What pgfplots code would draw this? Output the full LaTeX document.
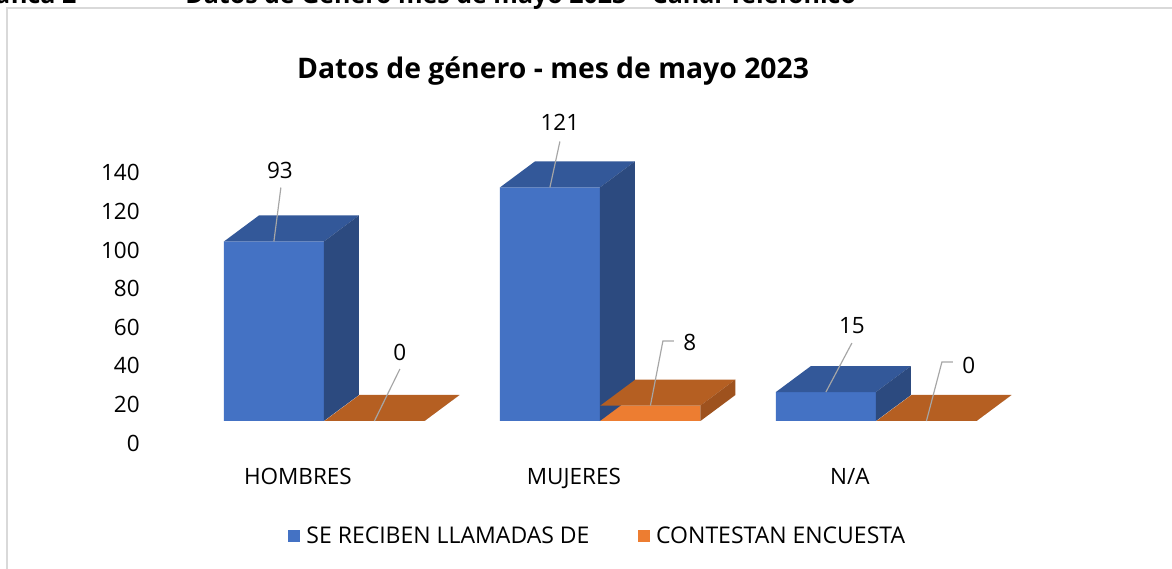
\documentclass[border=0pt]{standalone}
\usepackage{pgfplots}
\pgfplotsset{compat=1.18}
\usepackage{pgfplotstable}
\usepackage{fontspec}
\setmainfont{Open Sans}
\definecolor{bfront}{HTML}{4472C4}
\definecolor{btop}{HTML}{335899}
\definecolor{bside}{HTML}{2C4A7F}
\definecolor{ofront}{HTML}{ED7D31}
\definecolor{otop}{HTML}{B55F22}
\definecolor{oside}{HTML}{9E521E}
\definecolor{leader}{HTML}{A6A6A6}
\definecolor{framec}{HTML}{D9D9D9}

% x = category index, v = value, lx/ly = leader end (px), el = elbow (px), nx/ny = label offset (px)
\pgfplotstableread{
x v   lx   ly   el nx   ny
0 93  7    54   0  6    71
1 121 10   46   0  10   65
2 15  26   49   0  26   66
}\bluedata
\pgfplotstableread{
x v   lx   ly   el nx   ny
0 0   25.5 52   0  25.5 69
1 8   12.5 64.6 11 39.5 62.6
2 0   15.5 59   11 42.5 56
}\orangedata

\newcommand{\declarebox}[3]{%
\pgfdeclareplotmark{#1}{%
  \pgfmathsetmacro{\hh}{\val*1.158}%
  \pgfmathsetmacro{\ax}{\vlx*0.6}%
  \pgfmathsetmacro{\ay}{\vly*0.6}%
  \pgfmathsetmacro{\bx}{(\vlx+\vel)*0.6}%
  \pgfsetfillcolor{#2}%
  \pgfpathmoveto{\pgfqpoint{-30pt}{0pt}}%
  \pgfpathlineto{\pgfqpoint{30pt}{0pt}}%
  \pgfpathlineto{\pgfqpoint{51pt}{15.6pt}}%
  \pgfpathlineto{\pgfqpoint{-9pt}{15.6pt}}%
  \pgfpathclose
  \pgfusepath{fill}%
  \pgfsetfillcolor{#3}%
  \pgfpathmoveto{\pgfqpoint{30pt}{0pt}}%
  \pgfpathlineto{\pgfqpoint{51pt}{15.6pt}}%
  \pgfpathlineto{\pgfpoint{51pt}{15.6pt-\hh pt}}%
  \pgfpathlineto{\pgfpoint{30pt}{-\hh pt}}%
  \pgfpathclose
  \pgfusepath{fill}%
  \pgfsetstrokecolor{leader}%
  \pgfsetlinewidth{0.7pt}%
  \pgfpathmoveto{\pgfqpoint{0pt}{0pt}}%
  \pgfpathlineto{\pgfpoint{\ax pt}{\ay pt}}%
  \pgfpathlineto{\pgfpoint{\bx pt}{\ay pt}}%
  \pgfusepath{stroke}%
}}
\declarebox{boxblue}{btop}{bside}
\declarebox{boxorange}{otop}{oside}

\begin{document}
\begin{tikzpicture}
\useasboundingbox (0,0) rectangle (703.2pt,341.4pt);
\fill[white] (0,0) rectangle (703.2pt,341.4pt);
% frame
\draw[framec, line width=0.9pt] (4.2pt,0) -- (4.2pt,336.6pt) -- (703.2pt,336.6pt);
% cut-off header
\node[anchor=base east, inner sep=0pt, font=\bfseries\fontsize{15}{18}\selectfont] at (46pt,339.4pt) {Gráfica 2};
\node[anchor=base west, inner sep=0pt, font=\bfseries\fontsize{15}{18}\selectfont] at (111pt,339.4pt) {Datos de Género mes de mayo 2023 – Canal Telefónico};
% title
\node[font=\bfseries\fontsize{17}{20}\selectfont] at (331.8pt,298.8pt) {Datos de género - mes de mayo 2023};
\begin{axis}[
  at={(87pt,88.8pt)}, anchor=south west,
  x=165.6pt, y=1.158pt,
  xmin=-0.554, xmax=2.58, ymin=0, ymax=150,
  enlargelimits=false, clip=false,
  axis line style={draw=none},
  major tick length=0pt,
  xtick={0,1,2}, xticklabels={HOMBRES,MUJERES,N/A},
  ytick={0,20,...,140},
  /pgf/number format/assume math mode=true,
  ticklabel style={font=\fontsize{13.5}{16}\selectfont, text=black},
  yticklabel style={anchor=east, inner sep=0pt, xshift=-3pt, yshift=-13.2pt},
  xticklabel style={anchor=base, inner sep=0pt, yshift=-38pt},
  legend style={at={(0.524,-0.397)}, anchor=center, draw=none, fill=none,
    legend columns=2, font=\fontsize{13.8}{16}\selectfont,
    /tikz/every even column/.append style={column sep=27pt}},
  legend cell align=left,
  legend image code/.code={\fill[#1,draw=none] (0pt,-3.6pt) rectangle (7.2pt,3.6pt);\path (9pt,0pt);},
]
\addplot[ybar, bar shift=0pt, bar width=60pt, fill=bfront, draw=none]
  table[x expr=\thisrow{x}-0.087, y=v] {\bluedata};
\addlegendentry{SE RECIBEN LLAMADAS DE}
\addplot[forget plot, only marks, mark=boxblue,
  visualization depends on={\thisrow{v}\as\val},
  visualization depends on={\thisrow{lx}\as\vlx},
  visualization depends on={\thisrow{ly}\as\vly},
  visualization depends on={\thisrow{el}\as\vel},
  visualization depends on={\thisrow{nx}\as\vnx},
  visualization depends on={\thisrow{ny}\as\vny},
  nodes near coords,
  every node near coord/.append style={anchor=center, text=black,
    font=\fontsize{13.5}{16}\selectfont, xshift={\vnx*0.6pt}, yshift={\vny*0.6pt}},
  ] table[x expr=\thisrow{x}-0.087, y=v] {\bluedata};
\addplot[ybar, bar shift=0pt, bar width=60pt, fill=ofront, draw=none]
  table[x expr=\thisrow{x}+0.2772, y=v] {\orangedata};
\addlegendentry{CONTESTAN ENCUESTA}
\addplot[forget plot, only marks, mark=boxorange,
  visualization depends on={\thisrow{v}\as\val},
  visualization depends on={\thisrow{lx}\as\vlx},
  visualization depends on={\thisrow{ly}\as\vly},
  visualization depends on={\thisrow{el}\as\vel},
  visualization depends on={\thisrow{nx}\as\vnx},
  visualization depends on={\thisrow{ny}\as\vny},
  nodes near coords,
  every node near coord/.append style={anchor=center, text=black,
    font=\fontsize{13.5}{16}\selectfont, xshift={\vnx*0.6pt}, yshift={\vny*0.6pt}},
  ] table[x expr=\thisrow{x}+0.2772, y=v] {\orangedata};
\end{axis}
\end{tikzpicture}
\end{document}
